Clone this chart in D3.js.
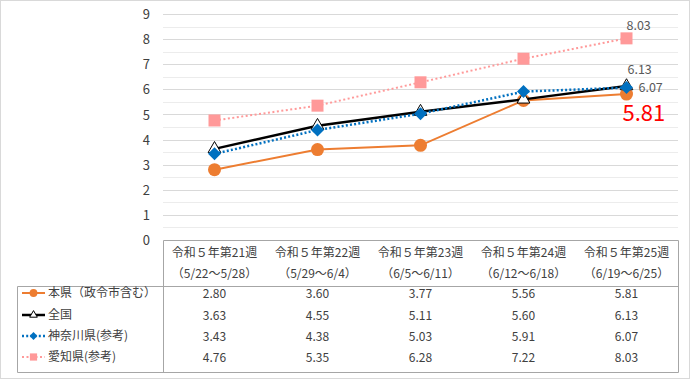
<!DOCTYPE html>
<html><head><meta charset="utf-8">
<script src="https://cdn.jsdelivr.net/npm/d3@7"></script>
<style>body{margin:0;background:#fff}svg{display:block}text{font-family:"Noto Sans CJK JP","Noto Sans",sans-serif}</style>
</head><body>
<svg id="c" width="690" height="379"></svg>
<script>
const weeks = ["令和５年第21週","令和５年第22週","令和５年第23週","令和５年第24週","令和５年第25週"];
const periods = ["（5/22～5/28）","（5/29～6/4）","（6/5～6/11）","（6/12～6/18）","（6/19～6/25）"];
const seriesNames = ["本県（政令市含む）","全国","神奈川県(参考)","愛知県(参考)"];
const honken = [2.80,3.60,3.77,5.56,5.81];
const zenkoku = [3.63,4.55,5.11,5.60,6.13];
const kanagawa = [3.43,4.38,5.03,5.91,6.07];
const aichi = [4.76,5.35,6.28,7.22,8.03];
const yTicks = [0,1,2,3,4,5,6,7,8,9];

const svg = d3.select("#c");
const L=163, R=678, T=14, B=240;
const x = d3.scaleBand().domain(weeks).range([L,R]);
const y = d3.scaleLinear().domain([0,9]).range([B,T]);
const cx = d => x(d)+x.bandwidth()/2;

svg.append("rect").attr("x",0.5).attr("y",0.5).attr("width",689).attr("height",378).attr("fill","none").attr("stroke","#d9d9d9");

// grid
const half = d3.range(0.5,9.01,0.5);
svg.append("g").selectAll("line").data(half).join("line")
  .attr("x1",L).attr("x2",R).attr("y1",d=>Math.round(y(d))+0.5).attr("y2",d=>Math.round(y(d))+0.5)
  .attr("stroke",d=>Number.isInteger(d)?"#d9d9d9":"#ececec").attr("stroke-width",1);

// y axis labels
const ax = svg.append("g").attr("transform",`translate(150,0)`).call(d3.axisLeft(y).tickValues(yTicks).tickSize(0).tickPadding(0));
ax.select(".domain").remove();
ax.selectAll("text").attr("font-size",13).attr("fill","#404040").attr("font-family","'Noto Sans',sans-serif").attr("dy","0.35em");

// table
const tb = svg.append("g").attr("stroke","#a6a6a6").attr("stroke-width",1).attr("fill","none");
tb.append("path").attr("d",`M${L+0.5},${B+0.5}H${R+0.5}V372.5H17.5V286.5H${R+0.5}M${L+0.5},${B+0.5}V372.5`);

const hdr = svg.append("g").attr("font-size",12).attr("fill","#404040").attr("text-anchor","middle");
weeks.forEach((w,i)=>{
  hdr.append("text").attr("x",cx(w)).attr("y",257).text(w);
  hdr.append("text").attr("x",cx(w)).attr("y",278).text(periods[i]);
});

const cfg = [
  {vals:honken,color:"#ED7D31",width:2,dash:null,marker:"circle"},
  {vals:zenkoku,color:"#000000",width:2.5,dash:null,marker:"triangle"},
  {vals:kanagawa,color:"#0070C0",width:2.5,dash:"2,2.2",marker:"diamond"},
  {vals:aichi,color:"#FF9999",width:2,dash:"2,2.5",marker:"square"}
];
const rowY = [297,319,340,361];

function drawMarker(g,type,px,py,color,scale){
  scale = scale||1;
  if(type==="circle") g.append("circle").attr("cx",px).attr("cy",py).attr("r",6.5*scale).attr("fill",color);
  if(type==="triangle") g.append("path").attr("d",d3.symbol(d3.symbolTriangle,70*scale*scale)()).attr("transform",`translate(${px},${py})`).attr("fill","#fff").attr("stroke","#000").attr("stroke-width",1);
  if(type==="diamond"){const s=6.5*scale;g.append("path").attr("d",`M${px},${py-s}L${px+s},${py}L${px},${py+s}L${px-s},${py}Z`).attr("fill",color);}
  if(type==="square"){const s=6*scale;g.append("rect").attr("x",px-s).attr("y",py-s).attr("width",2*s).attr("height",2*s).attr("fill",color);}
}

const line = d3.line().x((d,i)=>cx(weeks[i])).y(d=>y(d));
cfg.forEach((c,si)=>{
  const g = svg.append("g");
  g.append("path").attr("d",line(c.vals)).attr("fill","none").attr("stroke",c.color).attr("stroke-width",c.width).attr("stroke-dasharray",c.dash);
  c.vals.forEach((v,i)=>drawMarker(g,c.marker,cx(weeks[i]),y(v),c.color));
  // legend
  const lg = svg.append("g");
  lg.append("line").attr("x1",22).attr("x2",45).attr("y1",rowY[si]-4).attr("y2",rowY[si]-4).attr("stroke",c.color).attr("stroke-width",c.width).attr("stroke-dasharray",c.dash);
  drawMarker(lg,c.marker,33.5,rowY[si]-4,c.color,0.6);
  lg.append("text").attr("x",48).attr("y",rowY[si]).attr("font-size",12).attr("fill","#404040").text(seriesNames[si]);
  // values
  c.vals.forEach((v,i)=>svg.append("text").attr("x",cx(weeks[i])).attr("y",rowY[si]+1).attr("text-anchor","middle").attr("font-size",12).attr("fill","#404040").attr("font-family","'Noto Sans',sans-serif").text(v.toFixed(2)));
});

// data labels
const last = weeks[4];
const lbl = "'Noto Sans',sans-serif";
svg.append("text").attr("x",cx(last)).attr("y",y(aichi[4])-8).attr("font-size",12.5).attr("fill","#595959").attr("font-family",lbl).text(aichi[4].toFixed(2));
svg.append("text").attr("x",cx(last)+1).attr("y",y(zenkoku[4])-12).attr("font-size",12.5).attr("fill","#595959").attr("font-family",lbl).text(zenkoku[4].toFixed(2));
svg.append("text").attr("x",cx(last)+12).attr("y",y(kanagawa[4])+4).attr("font-size",12.5).attr("fill","#595959").attr("font-family",lbl).text(kanagawa[4].toFixed(2));
svg.append("text").attr("x",cx(last)-4).attr("y",y(honken[4])+27).attr("font-size",22).attr("fill","#FF0000").attr("font-family",lbl).text(honken[4].toFixed(2));
</script>
</body></html>
